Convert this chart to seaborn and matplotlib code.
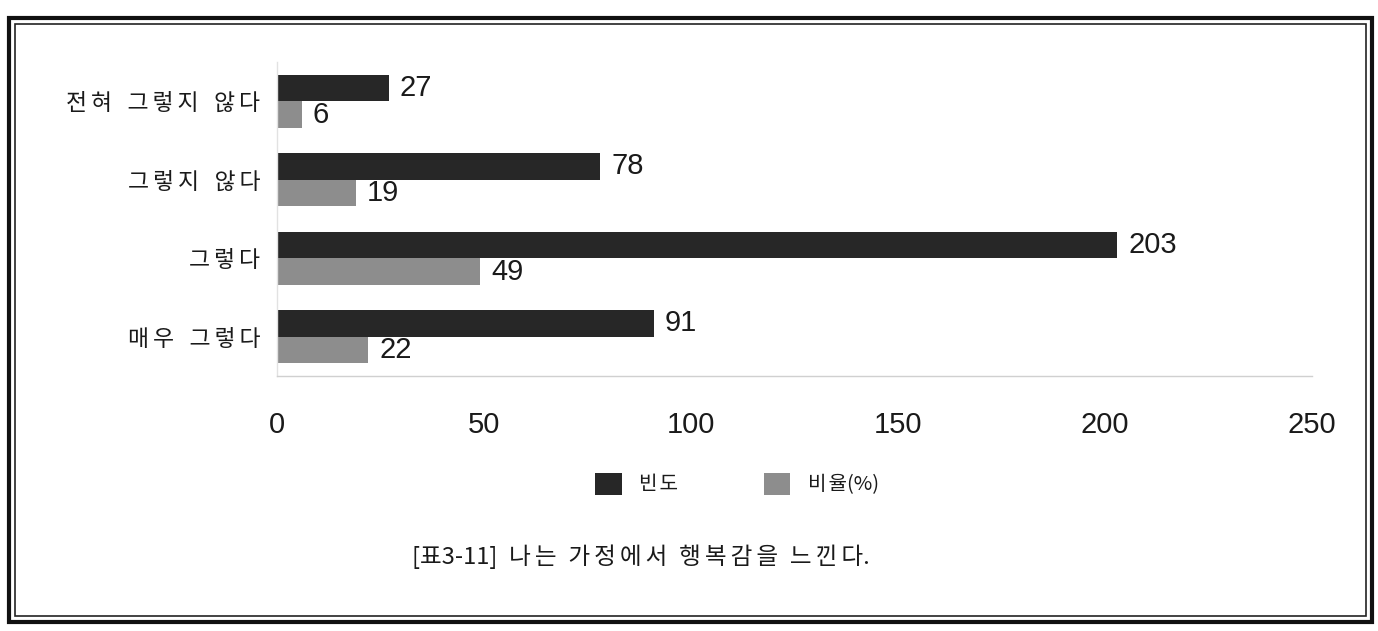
import matplotlib
matplotlib.use("Agg")
import matplotlib.pyplot as plt
from matplotlib.patches import Patch, Rectangle
import seaborn as sns
import pandas as pd

# Survey responses and the two series drawn for each
categories = ["전혀 그렇지 않다", "그렇지 않다", "그렇다", "매우 그렇다"]
series_names = ["빈도", "비율(%)"]
frequency = [27, 78, 203, 91]
percentage = [6, 19, 49, 22]
x_ticks = [0, 50, 100, 150, 200, 250]
caption = "[표3-11] 나는 가정에서 행복감을 느낀다."

DARK = "#272727"
GRAY = "#8d8d8d"
TEXT = "#1a1a1a"

sns.set_theme(style="white")
plt.rcParams["font.family"] = ["Noto Sans CJK KR", "DejaVu Sans"]


def is_hangul(ch):
    return "\uac00" <= ch <= "\ud7a3"


def tracked(text, intra="\u2006", word="\u2002\u2006"):
    """Letter-space Hangul text: `intra` between syllables, `word` between words."""
    out = []
    for i, ch in enumerate(text):
        if ch == " ":
            out.append(word)
            continue
        out.append(ch)
        nxt = text[i + 1] if i + 1 < len(text) else ""
        if intra and is_hangul(ch) and is_hangul(nxt):
            out.append(intra)
    return "".join(out)


df = pd.DataFrame({
    "category": categories * 2,
    "series": [series_names[0]] * len(categories) + [series_names[1]] * len(categories),
    "value": frequency + percentage,
})

W, H = 1378, 631
fig = plt.figure(figsize=(W / 100, H / 100), dpi=100)
fig.patch.set_facecolor("white")

ax = fig.add_axes([277 / W, 1 - 376 / H, (1312 - 277) / W, (376 - 62) / H])
sns.barplot(data=df, y="category", x="value", hue="series", orient="h",
            palette=[DARK, GRAY], saturation=1, width=0.68, linewidth=0,
            legend=False, ax=ax)

ax.set_xlim(0, 250)
ax.set_ylim(3.5, -0.5)
ax.set_xlabel("")
ax.set_ylabel("")

# value labels at the end of every bar
for cont in ax.containers:
    ax.bar_label(cont, padding=8, fontsize=21, color=TEXT,
                 family=["Liberation Sans"])

ax.set_xticks(x_ticks)
ax.set_xticklabels([str(t) for t in x_ticks], fontsize=21, color=TEXT,
                   family=["Liberation Sans"])
ax.set_yticks(range(len(categories)))
ax.set_yticklabels([tracked(c) for c in categories], fontsize=16.5, color=TEXT)
ax.tick_params(axis="x", which="major", length=4, direction="inout",
               color="#c8c8c8", pad=23)
ax.tick_params(axis="y", which="major", length=0, pad=12)

# faint row separators on the label side
ax.set_yticks([-0.5, 0.5, 1.5, 2.5, 3.5], minor=True)
ax.tick_params(axis="y", which="minor", length=84, width=1, color="#ececec")

for side in ("top", "right"):
    ax.spines[side].set_visible(False)
ax.spines["left"].set_color("#e2e2e2")
ax.spines["bottom"].set_color("#d0d0d0")
ax.spines["left"].set_linewidth(1)
ax.spines["bottom"].set_linewidth(1)

# legend below the chart
handles = [Patch(facecolor=DARK, edgecolor="none"),
           Patch(facecolor=GRAY, edgecolor="none")]
fig.legend(handles, [tracked(s, intra="\u200a") for s in series_names],
           loc="center", bbox_to_anchor=(737 / W, 1 - 484 / H), ncol=2,
           frameon=False, fontsize=14.5, handlelength=1.3, handleheight=1.3,
           handletextpad=0.85, columnspacing=4.3, labelcolor=TEXT)

fig.text(641 / W, 1 - 557 / H, tracked(caption, intra="\u2006", word="\u2002"),
         ha="center", va="center", fontsize=17, color=TEXT)

# double frame around the whole figure
fig.add_artist(Rectangle((9 / W, 1 - 622 / H), (1372 - 9) / W, (622 - 18) / H,
                         transform=fig.transFigure, fill=False,
                         edgecolor="#111111", linewidth=3.0))
fig.add_artist(Rectangle((15 / W, 1 - 616 / H), (1366 - 15) / W, (616 - 24) / H,
                         transform=fig.transFigure, fill=False,
                         edgecolor="#222222", linewidth=1.2))

fig.savefig("out.png", dpi=100, facecolor="white")
